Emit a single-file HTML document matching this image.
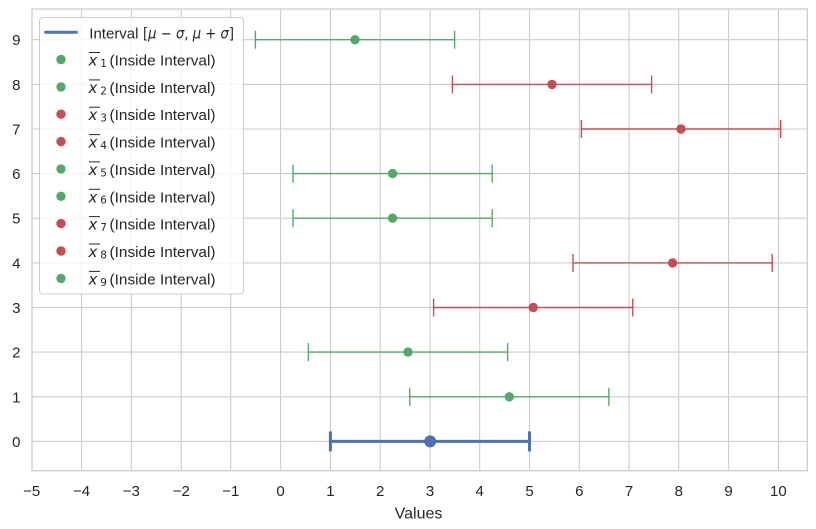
<!DOCTYPE html>
<html>
<head>
<meta charset="utf-8">
<style>
  html, body { margin: 0; padding: 0; background: #ffffff; }
  svg { display: block; }
  text { font-family: "Liberation Sans", Arial, sans-serif; fill: #262626; }
  .math { font-family: "DejaVu Sans", sans-serif; }
</style>
</head>
<body>
<svg width="816" height="529" viewBox="0 0 816 529" xmlns="http://www.w3.org/2000/svg">
  <rect x="0" y="0" width="816" height="529" fill="#ffffff"/>

  <!-- vertical gridlines -->
  <g stroke="#cccccc" stroke-width="1.1">
    <line x1="81.5" y1="9" x2="81.5" y2="470.7"/>
    <line x1="131.3" y1="9" x2="131.3" y2="470.7"/>
    <line x1="181.3" y1="9" x2="181.3" y2="470.7"/>
    <line x1="230.8" y1="9" x2="230.8" y2="470.7"/>
    <line x1="280.6" y1="9" x2="280.6" y2="470.7"/>
    <line x1="330.4" y1="9" x2="330.4" y2="470.7"/>
    <line x1="380.2" y1="9" x2="380.2" y2="470.7"/>
    <line x1="430.0" y1="9" x2="430.0" y2="470.7"/>
    <line x1="479.7" y1="9" x2="479.7" y2="470.7"/>
    <line x1="529.5" y1="9" x2="529.5" y2="470.7"/>
    <line x1="579.3" y1="9" x2="579.3" y2="470.7"/>
    <line x1="629.1" y1="9" x2="629.1" y2="470.7"/>
    <line x1="678.8" y1="9" x2="678.8" y2="470.7"/>
    <line x1="728.6" y1="9" x2="728.6" y2="470.7"/>
    <line x1="778.4" y1="9" x2="778.4" y2="470.7"/>
  </g>
  <!-- horizontal gridlines -->
  <g stroke="#cccccc" stroke-width="1.1">
    <line x1="32" y1="441.4" x2="807.3" y2="441.4"/>
    <line x1="32" y1="396.8" x2="807.3" y2="396.8"/>
    <line x1="32" y1="352.1" x2="807.3" y2="352.1"/>
    <line x1="32" y1="307.5" x2="807.3" y2="307.5"/>
    <line x1="32" y1="262.9" x2="807.3" y2="262.9"/>
    <line x1="32" y1="218.2" x2="807.3" y2="218.2"/>
    <line x1="32" y1="173.6" x2="807.3" y2="173.6"/>
    <line x1="32" y1="129.0" x2="807.3" y2="129.0"/>
    <line x1="32" y1="84.4" x2="807.3" y2="84.4"/>
    <line x1="32" y1="39.7" x2="807.3" y2="39.7"/>
  </g>

  <!-- error bars -->
  <!-- row 0 blue -->
  <g stroke="#4C72B0" stroke-width="3">
    <line x1="330.4" y1="441.4" x2="529.5" y2="441.4"/>
    <line x1="330.4" y1="431.4" x2="330.4" y2="451.4"/>
    <line x1="529.5" y1="431.4" x2="529.5" y2="451.4"/>
  </g>
  <circle cx="430.2" cy="441.4" r="6" fill="#4C72B0"/>

  <!-- green rows -->
  <g stroke="#55A868" stroke-width="1.4">
    <line x1="409.7" y1="396.8" x2="608.9" y2="396.8"/>
    <line x1="409.7" y1="387.8" x2="409.7" y2="405.8"/>
    <line x1="608.9" y1="387.8" x2="608.9" y2="405.8"/>

    <line x1="308.4" y1="352.1" x2="507.6" y2="352.1"/>
    <line x1="308.4" y1="343.1" x2="308.4" y2="361.1"/>
    <line x1="507.6" y1="343.1" x2="507.6" y2="361.1"/>

    <line x1="293" y1="218.2" x2="492.2" y2="218.2"/>
    <line x1="293" y1="209.2" x2="293" y2="227.2"/>
    <line x1="492.2" y1="209.2" x2="492.2" y2="227.2"/>

    <line x1="293" y1="173.6" x2="492.2" y2="173.6"/>
    <line x1="293" y1="164.6" x2="293" y2="182.6"/>
    <line x1="492.2" y1="164.6" x2="492.2" y2="182.6"/>

    <line x1="255.4" y1="39.7" x2="454.6" y2="39.7"/>
    <line x1="255.4" y1="30.7" x2="255.4" y2="48.7"/>
    <line x1="454.6" y1="30.7" x2="454.6" y2="48.7"/>
  </g>
  <g fill="#55A868">
    <circle cx="509.3" cy="396.8" r="4.7"/>
    <circle cx="408" cy="352.1" r="4.7"/>
    <circle cx="392.6" cy="218.2" r="4.7"/>
    <circle cx="392.6" cy="173.6" r="4.7"/>
    <circle cx="355" cy="39.7" r="4.7"/>
  </g>

  <!-- red rows -->
  <g stroke="#C44E52" stroke-width="1.4">
    <line x1="433.6" y1="307.5" x2="632.8" y2="307.5"/>
    <line x1="433.6" y1="298.5" x2="433.6" y2="316.5"/>
    <line x1="632.8" y1="298.5" x2="632.8" y2="316.5"/>

    <line x1="573" y1="262.9" x2="772.2" y2="262.9"/>
    <line x1="573" y1="253.9" x2="573" y2="271.9"/>
    <line x1="772.2" y1="253.9" x2="772.2" y2="271.9"/>

    <line x1="581.4" y1="129.0" x2="780.6" y2="129.0"/>
    <line x1="581.4" y1="120.0" x2="581.4" y2="138.0"/>
    <line x1="780.6" y1="120.0" x2="780.6" y2="138.0"/>

    <line x1="452.4" y1="84.4" x2="651.6" y2="84.4"/>
    <line x1="452.4" y1="75.4" x2="452.4" y2="93.4"/>
    <line x1="651.6" y1="75.4" x2="651.6" y2="93.4"/>
  </g>
  <g fill="#C44E52">
    <circle cx="533.2" cy="307.5" r="4.7"/>
    <circle cx="672.6" cy="262.9" r="4.7"/>
    <circle cx="681" cy="129.0" r="4.7"/>
    <circle cx="552" cy="84.4" r="4.7"/>
  </g>

  <!-- spines -->
  <rect x="32" y="9" width="775.3" height="461.7" fill="none" stroke="#cccccc" stroke-width="1.3"/>

  <!-- y tick labels -->
  <g font-size="15" text-anchor="end">
    <text x="20.5" y="446.9">0</text>
    <text x="20.5" y="402.3">1</text>
    <text x="20.5" y="357.6">2</text>
    <text x="20.5" y="313.0">3</text>
    <text x="20.5" y="268.4">4</text>
    <text x="20.5" y="223.7">5</text>
    <text x="20.5" y="179.1">6</text>
    <text x="20.5" y="134.5">7</text>
    <text x="20.5" y="89.9">8</text>
    <text x="20.5" y="45.2">9</text>
  </g>

  <!-- x tick labels -->
  <g font-size="15" text-anchor="middle">
    <text x="31.7" y="496">−5</text>
    <text x="81.5" y="496">−4</text>
    <text x="131.3" y="496">−3</text>
    <text x="181.3" y="496">−2</text>
    <text x="230.8" y="496">−1</text>
    <text x="280.6" y="496">0</text>
    <text x="330.4" y="496">1</text>
    <text x="380.2" y="496">2</text>
    <text x="430.0" y="496">3</text>
    <text x="479.7" y="496">4</text>
    <text x="529.5" y="496">5</text>
    <text x="579.3" y="496">6</text>
    <text x="629.1" y="496">7</text>
    <text x="678.8" y="496">8</text>
    <text x="728.6" y="496">9</text>
    <text x="778.4" y="496">10</text>
  </g>

  <!-- x axis label -->
  <text x="418.5" y="518.3" font-size="16" text-anchor="middle">Values</text>

  <!-- legend -->
  <rect x="39.5" y="17.5" width="204" height="276.5" rx="3.5" ry="3.5" fill="#ffffff" fill-opacity="0.8" stroke="#cccccc" stroke-width="1"/>

  <line x1="44.3" y1="32.3" x2="77.7" y2="32.3" stroke="#4C72B0" stroke-width="3"/>
  <text x="89.3" y="38.3" font-size="15">Interval</text>
  <text class="math" x="143" y="38.3" font-size="15" textLength="91" lengthAdjust="spacingAndGlyphs">[<tspan font-style="italic">μ</tspan> − <tspan font-style="italic">σ</tspan>, <tspan font-style="italic">μ</tspan> + <tspan font-style="italic">σ</tspan>]</text>

  <!-- legend marker rows -->
  <g fill="#55A868">
    <circle cx="61" cy="59.5" r="4.7"/>
    <circle cx="61" cy="86.9" r="4.7"/>
    <circle cx="61" cy="168.9" r="4.7"/>
    <circle cx="61" cy="196.3" r="4.7"/>
    <circle cx="61" cy="278.4" r="4.7"/>
  </g>
  <g fill="#C44E52">
    <circle cx="61" cy="114.2" r="4.7"/>
    <circle cx="61" cy="141.6" r="4.7"/>
    <circle cx="61" cy="223.6" r="4.7"/>
    <circle cx="61" cy="251.0" r="4.7"/>
  </g>

  <!-- legend labels -->
  <g>
    <!-- row helper: center c; overline at c-7, x baseline c+6, subscript baseline c+7.4 -->
    <g transform="translate(0,59.5)">
      <line x1="89" y1="-7" x2="100" y2="-7" stroke="#262626" stroke-width="1"/>
      <text class="math" x="88.5" y="6" font-size="15" font-style="italic">x</text>
      <text class="math" x="100.3" y="7.4" font-size="10.5">1</text>
      <text x="109.5" y="6" font-size="15" textLength="106" lengthAdjust="spacingAndGlyphs">(Inside Interval)</text>
    </g>
    <g transform="translate(0,86.9)">
      <line x1="89" y1="-7" x2="100" y2="-7" stroke="#262626" stroke-width="1"/>
      <text class="math" x="88.5" y="6" font-size="15" font-style="italic">x</text>
      <text class="math" x="100.3" y="7.4" font-size="10.5">2</text>
      <text x="109.5" y="6" font-size="15" textLength="106" lengthAdjust="spacingAndGlyphs">(Inside Interval)</text>
    </g>
    <g transform="translate(0,114.2)">
      <line x1="89" y1="-7" x2="100" y2="-7" stroke="#262626" stroke-width="1"/>
      <text class="math" x="88.5" y="6" font-size="15" font-style="italic">x</text>
      <text class="math" x="100.3" y="7.4" font-size="10.5">3</text>
      <text x="109.5" y="6" font-size="15" textLength="106" lengthAdjust="spacingAndGlyphs">(Inside Interval)</text>
    </g>
    <g transform="translate(0,141.6)">
      <line x1="89" y1="-7" x2="100" y2="-7" stroke="#262626" stroke-width="1"/>
      <text class="math" x="88.5" y="6" font-size="15" font-style="italic">x</text>
      <text class="math" x="100.3" y="7.4" font-size="10.5">4</text>
      <text x="109.5" y="6" font-size="15" textLength="106" lengthAdjust="spacingAndGlyphs">(Inside Interval)</text>
    </g>
    <g transform="translate(0,168.9)">
      <line x1="89" y1="-7" x2="100" y2="-7" stroke="#262626" stroke-width="1"/>
      <text class="math" x="88.5" y="6" font-size="15" font-style="italic">x</text>
      <text class="math" x="100.3" y="7.4" font-size="10.5">5</text>
      <text x="109.5" y="6" font-size="15" textLength="106" lengthAdjust="spacingAndGlyphs">(Inside Interval)</text>
    </g>
    <g transform="translate(0,196.3)">
      <line x1="89" y1="-7" x2="100" y2="-7" stroke="#262626" stroke-width="1"/>
      <text class="math" x="88.5" y="6" font-size="15" font-style="italic">x</text>
      <text class="math" x="100.3" y="7.4" font-size="10.5">6</text>
      <text x="109.5" y="6" font-size="15" textLength="106" lengthAdjust="spacingAndGlyphs">(Inside Interval)</text>
    </g>
    <g transform="translate(0,223.6)">
      <line x1="89" y1="-7" x2="100" y2="-7" stroke="#262626" stroke-width="1"/>
      <text class="math" x="88.5" y="6" font-size="15" font-style="italic">x</text>
      <text class="math" x="100.3" y="7.4" font-size="10.5">7</text>
      <text x="109.5" y="6" font-size="15" textLength="106" lengthAdjust="spacingAndGlyphs">(Inside Interval)</text>
    </g>
    <g transform="translate(0,251.0)">
      <line x1="89" y1="-7" x2="100" y2="-7" stroke="#262626" stroke-width="1"/>
      <text class="math" x="88.5" y="6" font-size="15" font-style="italic">x</text>
      <text class="math" x="100.3" y="7.4" font-size="10.5">8</text>
      <text x="109.5" y="6" font-size="15" textLength="106" lengthAdjust="spacingAndGlyphs">(Inside Interval)</text>
    </g>
    <g transform="translate(0,278.4)">
      <line x1="89" y1="-7" x2="100" y2="-7" stroke="#262626" stroke-width="1"/>
      <text class="math" x="88.5" y="6" font-size="15" font-style="italic">x</text>
      <text class="math" x="100.3" y="7.4" font-size="10.5">9</text>
      <text x="109.5" y="6" font-size="15" textLength="106" lengthAdjust="spacingAndGlyphs">(Inside Interval)</text>
    </g>
  </g>
</svg>
</body>
</html>
